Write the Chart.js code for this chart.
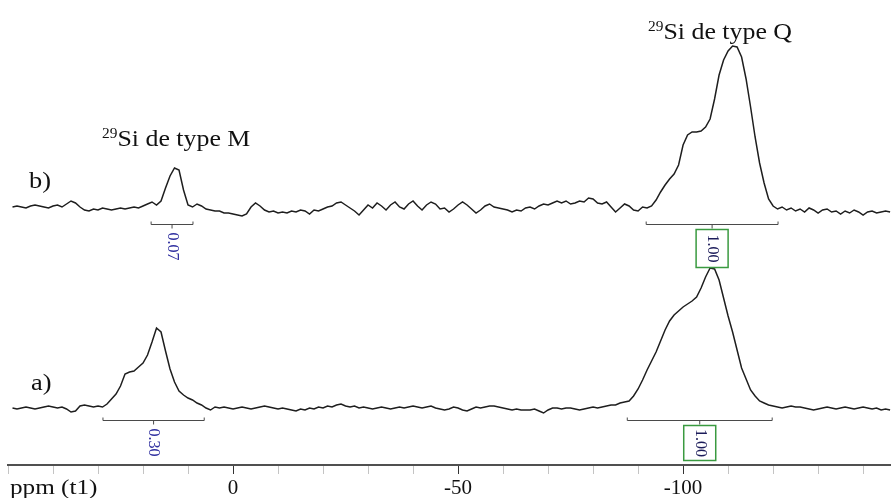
<!DOCTYPE html>
<html>
<head>
<meta charset="utf-8">
<script src="https://cdn.jsdelivr.net/npm/chart.js@4.4.0/dist/chart.umd.min.js"></script>
<style>
    html, body { margin: 0; padding: 0; background: #fff; }
    #wrap { width: 891px; height: 498px; position: relative; }
</style>
</head>
<body>
<div id="wrap"><canvas id="nmr"></canvas></div>
<script>
// chemical shift (ppm), one point per ppm from 49 down to -146
const ppm = [
    49, 48, 47, 46, 45, 44, 43, 42, 41, 40,
    39, 38, 37, 36, 35, 34, 33, 32, 31, 30,
    29, 28, 27, 26, 25, 24, 23, 22, 21, 20,
    19, 18, 17, 16, 15, 14, 13, 12, 11, 10,
    9, 8, 7, 6, 5, 4, 3, 2, 1, 0,
    -1, -2, -3, -4, -5, -6, -7, -8, -9, -10,
    -11, -12, -13, -14, -15, -16, -17, -18, -19, -20,
    -21, -22, -23, -24, -25, -26, -27, -28, -29, -30,
    -31, -32, -33, -34, -35, -36, -37, -38, -39, -40,
    -41, -42, -43, -44, -45, -46, -47, -48, -49, -50,
    -51, -52, -53, -54, -55, -56, -57, -58, -59, -60,
    -61, -62, -63, -64, -65, -66, -67, -68, -69, -70,
    -71, -72, -73, -74, -75, -76, -77, -78, -79, -80,
    -81, -82, -83, -84, -85, -86, -87, -88, -89, -90,
    -91, -92, -93, -94, -95, -96, -97, -98, -99, -100,
    -101, -102, -103, -104, -105, -106, -107, -108, -109, -110,
    -111, -112, -113, -114, -115, -116, -117, -118, -119, -120,
    -121, -122, -123, -124, -125, -126, -127, -128, -129, -130,
    -131, -132, -133, -134, -135, -136, -137, -138, -139, -140,
    -141, -142, -143, -144, -145, -146
];

// spectre a)
const traceA = [
    0, -1, 0, 1, 0, -1, 0, 1, 2, 1,
    0, 1, -1, -4, -3, 2, 3, 2, 1, 2,
    1, 4, 9, 14, 22, 34, 36, 37, 41, 45,
    53, 66, 80, 76, 57, 39, 26, 17, 13, 10,
    8, 5, 3, 0, -2, 1, 0, 1, 0, -1,
    0, 1, 0, -1, 0, 1, 2, 1, 0, -1,
    0, -1, -2, -3, -1, -2, 0, -1, 1, 0,
    2, 1, 3, 4, 2, 1, 2, 0, 1, 0,
    -1, 0, 1, 0, -1, 0, 1, 0, 1, 2,
    1, 0, 1, 2, 0, -1, -2, -1, 1, 0,
    -2, -3, -1, 1, 0, 1, 2, 2, 1, 0,
    -1, -2, -1, -2, -2, -2, -1, -3, -5, -2,
    0, 0, -1, 0, 0, -1, -2, -1, 0, 1,
    0, 1, 2, 3, 3, 5, 6, 7, 12, 19,
    28, 38, 47, 56, 67, 78, 87, 93, 97, 101,
    104, 107, 111, 120, 131, 140, 139, 128, 110, 92,
    76, 58, 40, 29, 18, 12, 7, 5, 3, 2,
    1, 0, 1, 2, 1, 1, 0, -1, -2, -1,
    0, 1, 0, -1, 0, 1, 0, -1, 0, 1,
    0, -1, 0, -2, -1, -2
];

// spectre b)
const traceB = [
    0, 1, 0, -1, 1, 2, 1, 0, -1, 1,
    2, 0, 3, 6, 4, 0, -3, -4, -2, -3,
    -1, -2, -3, -2, -1, -2, -1, 0, -1, 1,
    3, 5, 2, 6, 19, 31, 39, 37, 17, 2,
    0, 3, 1, -2, -3, -4, -4, -6, -6, -7,
    -8, -9, -7, 0, 4, 1, -3, -5, -4, -6,
    -5, -6, -4, -5, -3, -4, -7, -3, -4, -2,
    0, 1, 4, 5, 2, -1, -4, -8, -3, 2,
    -1, 4, 1, -3, 2, 5, 0, -2, 3, 6,
    1, -3, 2, 5, 3, -2, -1, -5, -2, 2,
    5, 2, -2, -6, -3, 1, 3, 0, -1, -2,
    -3, -5, -3, -4, -1, 0, -2, 1, 3, 2,
    4, 6, 4, 6, 3, 4, 6, 5, 9, 8,
    4, 3, 5, 0, -5, -1, 3, 1, -3, -4,
    0, -1, 1, 7, 15, 22, 28, 33, 42, 62,
    72, 75, 75, 76, 80, 88, 108, 132, 147, 156,
    161, 160, 150, 128, 100, 70, 44, 24, 8, 1,
    -2, 0, -3, -1, -4, -2, -5, -1, -3, -6,
    -3, -2, -5, -4, -7, -4, -6, -3, -5, -8,
    -5, -4, -6, -5, -4, -5
];

// axe
const tickValues = [50, 40, 30, 20, 10, 0, -10, -20, -30, -40, -50, -60, -70, -80, -90, -100, -110, -120, -130, -140];
const labelledTicks = [0, -50, -100];
const axisTitle = 'ppm (t1)';

// intégrales
const integralTrace = ['b', 'b', 'a', 'a'];
const integralFrom = [18.2, -91.8, 28.9, -87.6];
const integralTo = [8.9, -121.1, 6.4, -119.8];
const integralText = ['0.07', '1.00', '0.30', '1.00'];
const integralBoxed = [false, true, false, true];

// annotations
const traceNames = ['a)', 'b)'];
const peakTitles = ['Si de type M', 'Si de type Q'];
const isotope = '29';

// position verticale des deux spectres
const offsetA = 57;
const offsetB = 258;
const serif = '"Liberation Serif", "Times New Roman", serif';

const drawStretched = (ctx, str, x, y, size, sx) => {
    ctx.save();
    ctx.translate(x, y);
    ctx.scale(sx, 1);
    ctx.font = `${size}px ${serif}`;
    ctx.fillText(str, 0, 0);
    const w = ctx.measureText(str).width * sx;
    ctx.restore();
    return w;
};

const drawTitle = (ctx, text, x, y) => {
    ctx.textBaseline = 'alphabetic';
    ctx.textAlign = 'left';
    const w = drawStretched(ctx, isotope, x, y - 8, 14, 1.1);
    drawStretched(ctx, text, x + w, y, 22.5, 1.15);
};

const overlay = {
    id: 'overlay',
    afterDatasetsDraw(chart) {
        const ctx = chart.ctx;
        const xs = chart.scales.x;
        const ys = chart.scales.y;
        ctx.save();

        // intégrales
        integralTrace.forEach((t, i) => {
            const base = ys.getPixelForValue(t === 'a' ? offsetA : offsetB);
            const yB = Math.round(base + (t === 'a' ? 12 : 17)) + 0.5;
            const x1 = xs.getPixelForValue(integralFrom[i]);
            const x2 = xs.getPixelForValue(integralTo[i]);
            const xc = (x1 + x2) / 2;
            ctx.strokeStyle = '#4a4a4a';
            ctx.lineWidth = 1;
            ctx.beginPath();
            ctx.moveTo(x1, yB - 3);
            ctx.lineTo(x1, yB);
            ctx.lineTo(x2, yB);
            ctx.lineTo(x2, yB - 3);
            ctx.moveTo(xc, yB);
            ctx.lineTo(xc, yB + 4);
            ctx.stroke();

            ctx.font = `16px ${serif}`;
            ctx.textBaseline = 'middle';
            ctx.textAlign = 'center';
            if (integralBoxed[i]) {
                const h = t === 'a' ? 35 : 38;
                const top = yB + 5;
                ctx.strokeStyle = '#3a9a40';
                ctx.lineWidth = 1.5;
                ctx.strokeRect(xc - 16, top, 32, h);
                ctx.save();
                ctx.translate(xc, top + h / 2);
                ctx.rotate(Math.PI / 2);
                ctx.fillStyle = '#1c1c5a';
                ctx.fillText(integralText[i], 0, 0);
                ctx.restore();
            } else {
                ctx.save();
                ctx.translate(xc, yB + 22);
                ctx.rotate(Math.PI / 2);
                ctx.fillStyle = '#3030a0';
                ctx.fillText(integralText[i], 0, 0);
                ctx.restore();
            }
        });

        // textes
        ctx.fillStyle = '#111';
        ctx.textBaseline = 'alphabetic';
        ctx.textAlign = 'left';
        drawStretched(ctx, traceNames[0], 31, 390, 24, 1.1);
        drawStretched(ctx, traceNames[1], 29, 188, 24, 1.1);
        drawTitle(ctx, peakTitles[0], 102, 146);
        drawTitle(ctx, peakTitles[1], 648, 39);
        drawStretched(ctx, axisTitle, 10, 494, 21, 1.2);
        ctx.restore();
    }
};

const line = (values, offset) => ({
    data: ppm.map((p, i) => ({ x: p, y: values[i] + offset })),
    borderColor: '#1e1e1e',
    borderWidth: 1.5,
    pointRadius: 0,
    tension: 0,
    fill: false,
});

new Chart(document.querySelector('#nmr'), {
    type: 'line',
    data: {
        datasets: [line(traceA, offsetA), line(traceB, offsetB)],
    },
    options: {
        animation: false,
        responsive: true,
        maintainAspectRatio: false,
        devicePixelRatio: 1,
        layout: { padding: { left: 8, right: 0, top: 0, bottom: 0 } },
        plugins: { legend: { display: false }, tooltip: { enabled: false } },
        scales: {
            x: {
                type: 'linear',
                reverse: true,
                min: -146.2,
                max: 50,
                afterBuildTicks: s => { s.ticks = tickValues.map(v => ({ value: v })); },
                afterFit: s => { s.height = 33; },
                border: { display: true, color: '#505050', width: 2 },
                grid: {
                    drawOnChartArea: false,
                    drawTicks: true,
                    tickLength: 9,
                    color: c => (c.tick && labelledTicks.includes(c.tick.value) ? '#333' : '#c4c4c4'),
                },
                ticks: {
                    autoSkip: false,
                    maxRotation: 0,
                    padding: 2,
                    color: '#111',
                    font: { family: serif, size: 21 },
                    callback: v => (labelledTicks.includes(v) ? String(v) : ''),
                },
            },
            y: { display: false, min: 0, max: 465 },
        },
    },
    plugins: [overlay],
});
</script>
</body>
</html>
